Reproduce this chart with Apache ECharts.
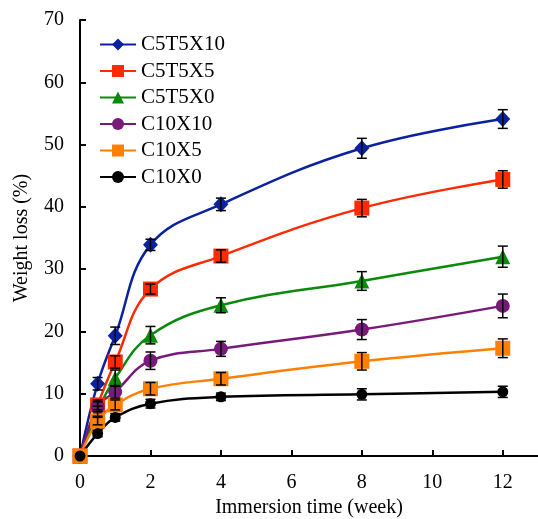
<!DOCTYPE html>
<html style="height: 100%">
<head>
    <meta charset="utf-8">
    <script src="https://cdn.jsdelivr.net/npm/echarts@6.0.0/dist/echarts.min.js"></script>
</head>
<body style="height: 100%; margin: 0; background: #fff">
    <div id="container" style="width: 538px; height: 519px"></div>
    <script type="text/javascript">
        // data
        const weeks = [0, 0.5, 1, 2, 4, 8, 12];
        const xTicks = [0, 2, 4, 6, 8, 10, 12];
        const seriesNames = ['C5T5X10', 'C5T5X5', 'C5T5X0', 'C10X10', 'C10X5', 'C10X0'];

        const c5t5x10 = [0, 11.6, 19.3, 33.9, 40.4, 49.4, 54.1];
        const c5t5x5  = [0, 8.2, 15.1, 26.8, 32.1, 39.8, 44.4];
        const c5t5x0  = [0, 7.2, 12.5, 19.4, 24.2, 28.1, 32.0];
        const c10x10  = [0, 7.9, 10.3, 15.3, 17.2, 20.3, 24.1];
        const c10x5   = [0, 5.6, 8.2, 10.8, 12.4, 15.2, 17.3];
        const c10x0   = [0, 3.6, 6.2, 8.4, 9.5, 9.9, 10.3];

        const errC5t5x10 = [0, 1.0, 1.4, 0.9, 1.0, 1.6, 1.5];
        const errC5t5x5  = [0, 0.8, 1.0, 0.8, 1.0, 1.4, 1.4];
        const errC5t5x0  = [0, 0.8, 1.3, 1.4, 1.2, 1.5, 1.7];
        const errC10x10  = [0, 0.8, 1.0, 1.4, 1.2, 1.6, 1.9];
        const errC10x5   = [0, 0.6, 0.8, 1.0, 1.0, 1.4, 1.5];
        const errC10x0   = [0, 0.5, 0.6, 0.7, 0.6, 0.9, 0.9];

        const allValues = [c5t5x10, c5t5x5, c5t5x0, c10x10, c10x5, c10x0];
        const allErrors = [errC5t5x10, errC5t5x5, errC5t5x0, errC10x10, errC10x5, errC10x0];

        const colors = ['#0a22a0', '#ff2a00', '#0a8a0a', '#781a7a', '#ff8000', '#000000'];
        const symbols = ['diamond', 'rect', 'triangle', 'circle', 'rect', 'circle'];
        const symbolSizes = [[15, 16], 15, 15, 14, 15, 11];

        const fontFam = '"Liberation Serif", "Times New Roman", serif';

        var myChart = echarts.init(document.getElementById('container'));

        function errorBarSeries(vals, errs) {
            return {
                type: 'custom',
                silent: true,
                z: 3,
                data: weeks.map((w, i) => [w, vals[i] - errs[i], vals[i] + errs[i]]),
                renderItem: function (params, api) {
                    if (api.value(2) - api.value(1) < 0.01) return;
                    const lo = api.coord([api.value(0), api.value(1)]);
                    const hi = api.coord([api.value(0), api.value(2)]);
                    const w = 5;
                    const st = { stroke: '#000', lineWidth: 1.5 };
                    return {
                        type: 'group',
                        children: [
                            { type: 'line', shape: { x1: lo[0], y1: lo[1], x2: hi[0], y2: hi[1] }, style: st },
                            { type: 'line', shape: { x1: lo[0] - w, y1: lo[1], x2: lo[0] + w, y2: lo[1] }, style: st },
                            { type: 'line', shape: { x1: hi[0] - w, y1: hi[1], x2: hi[0] + w, y2: hi[1] }, style: st }
                        ]
                    };
                }
            };
        }

        const series = [];
        seriesNames.forEach(function (name, k) {
            series.push({
                name: name,
                type: 'line',
                smooth: 0.4,
                symbol: symbols[k],
                symbolSize: symbolSizes[k],
                showAllSymbol: true,
                z: 2,
                itemStyle: { color: colors[k] },
                lineStyle: { color: colors[k], width: 2.5 },
                data: weeks.map((w, i) => [w, allValues[k][i]])
            });
        });
        seriesNames.forEach(function (name, k) {
            series.push(errorBarSeries(allValues[k], allErrors[k]));
        });

        option = {
            animation: false,
            textStyle: { fontFamily: fontFam },
            grid: { left: 80, right: 0, top: 20, bottom: 63, outerBoundsMode: 'none', containLabel: false },
            legend: {
                data: seriesNames,
                orient: 'vertical',
                left: 99,
                top: 34,
                padding: 0,
                itemWidth: 36,
                itemHeight: 15,
                itemGap: 5.5,
                textStyle: { fontFamily: fontFam, fontSize: 21, color: '#000', lineHeight: 21 }
            },
            xAxis: {
                type: 'value',
                min: 0,
                max: 13,
                name: 'Immersion time (week)',
                nameLocation: 'middle',
                nameGap: 42,
                nameTextStyle: { fontFamily: fontFam, fontSize: 20, color: '#000' },
                axisLine: { lineStyle: { color: '#000', width: 2 } },
                axisTick: { inside: true, length: 6, lineStyle: { color: '#000', width: 2 }, customValues: xTicks },
                axisLabel: { fontFamily: fontFam, fontSize: 20, color: '#000', margin: 17, customValues: xTicks },
                splitLine: { show: false }
            },
            yAxis: {
                type: 'value',
                min: 0,
                max: 70,
                interval: 10,
                name: 'Weight loss (%)',
                nameLocation: 'middle',
                nameGap: 48,
                nameTextStyle: { fontFamily: fontFam, fontSize: 20, color: '#000' },
                axisLine: { show: true, lineStyle: { color: '#000', width: 2 } },
                axisTick: { show: true, inside: true, length: 6, lineStyle: { color: '#000', width: 2 } },
                axisLabel: { fontFamily: fontFam, fontSize: 20, color: '#000', margin: 16 },
                splitLine: { show: false }
            },
            series: series
        };

        myChart.setOption(option);
    </script>
</body>
</html>
